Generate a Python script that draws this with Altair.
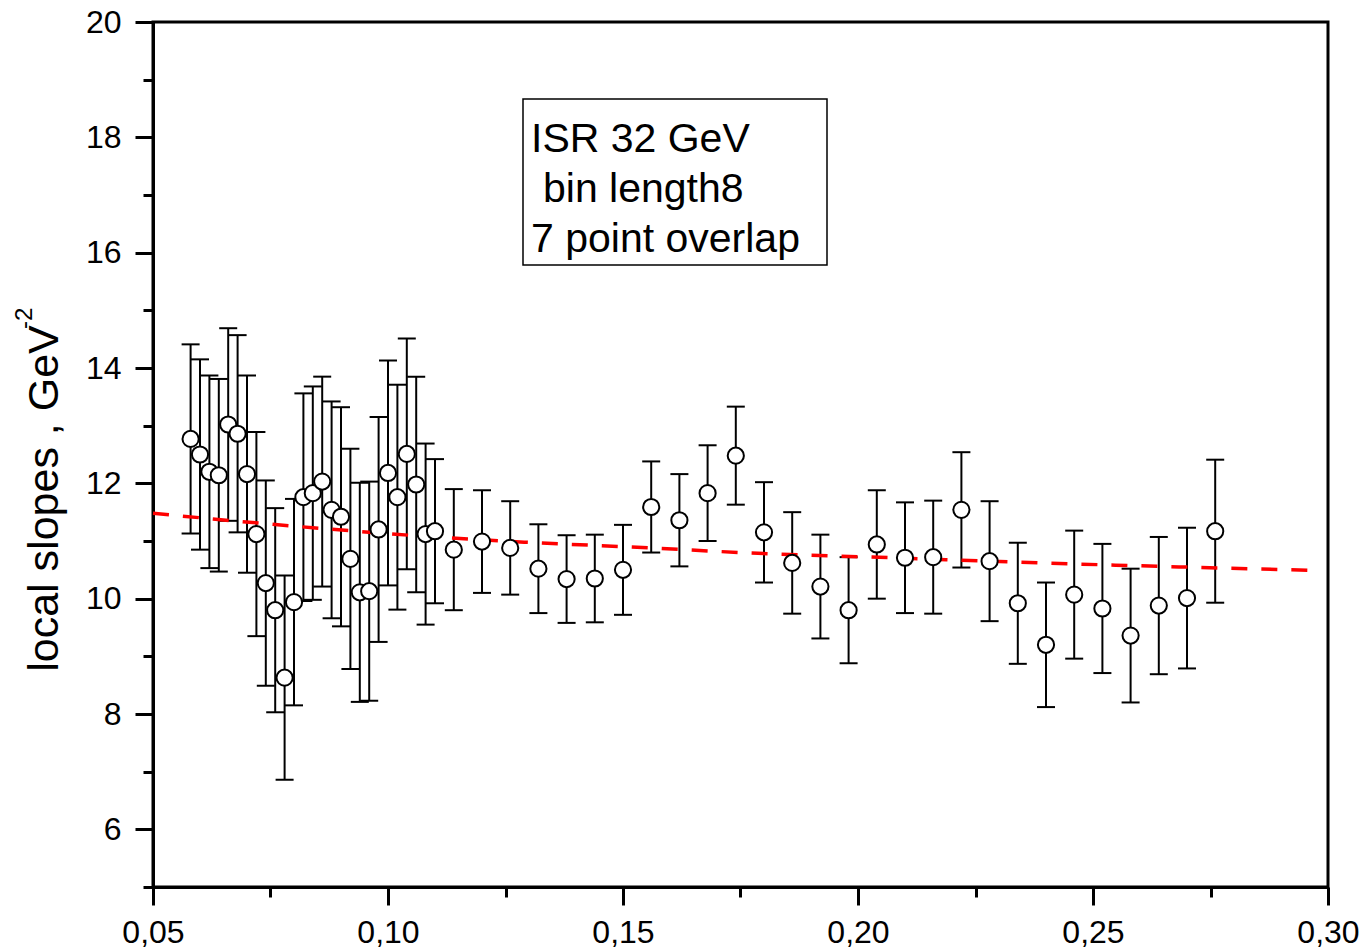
import altair as alt
import pandas as pd

# ---- data ----
x_vals = [0.058, 0.060, 0.062, 0.064, 0.066, 0.068, 0.070, 0.072, 0.074, 0.076,
          0.078, 0.080, 0.082, 0.084, 0.086, 0.088, 0.090, 0.092, 0.094, 0.096,
          0.098, 0.100, 0.102, 0.104, 0.106, 0.108, 0.110,
          0.114, 0.120, 0.126, 0.132, 0.138, 0.144, 0.150, 0.156, 0.162, 0.168,
          0.174, 0.180, 0.186, 0.192, 0.198, 0.204, 0.210, 0.216, 0.222, 0.228,
          0.234, 0.240, 0.246, 0.252, 0.258, 0.264, 0.270, 0.276]
y_vals = [12.77, 12.50, 12.20, 12.14, 13.02, 12.86, 12.16, 11.12, 10.27, 9.80,
          8.63, 9.94, 11.76, 11.83, 12.03, 11.54, 11.42, 10.69, 10.11, 10.13,
          11.20, 12.18, 11.76, 12.51, 11.98, 11.12, 11.17,
          10.85, 10.99, 10.88, 10.52, 10.34, 10.35, 10.50, 11.59, 11.36, 11.83,
          12.48, 11.15, 10.62, 10.21, 9.80, 10.94, 10.71, 10.72, 11.54, 10.65,
          9.92, 9.20, 10.07, 9.83, 9.36, 9.88, 10.01, 11.17]
y_err = [1.64, 1.65, 1.67, 1.67, 1.67, 1.71, 1.71, 1.77, 1.78, 1.77,
         1.77, 1.79, 1.80, 1.85, 1.82, 1.88, 1.90, 1.91, 1.90, 1.90,
         1.95, 1.95, 1.95, 2.00, 1.87, 1.57, 1.25,
         1.05, 0.89, 0.81, 0.77, 0.76, 0.76, 0.78, 0.79, 0.80, 0.83,
         0.85, 0.87, 0.88, 0.90, 0.92, 0.94, 0.96, 0.98, 1.00, 1.04,
         1.05, 1.08, 1.11, 1.12, 1.16, 1.19, 1.22, 1.24]

fit_x = [0.050, 0.084, 0.110, 0.129, 0.156, 0.175, 0.207, 0.239, 0.298]
fit_y = [11.48, 11.23, 11.07, 10.98, 10.88, 10.80, 10.71, 10.62, 10.49]

x_major = [0.05, 0.10, 0.15, 0.20, 0.25, 0.30]
x_minor = [0.075, 0.125, 0.175, 0.225, 0.275]
y_major = [6, 8, 10, 12, 14, 16, 18, 20]
y_minor = [5, 7, 9, 11, 13, 15, 17, 19]

box_lines = ["ISR 32 GeV", "bin length8", "7 point overlap"]
y_title = "local slopes , GeV"
y_title_sup = "-2"

FONT = "Liberation Sans"

df = pd.DataFrame({"x": x_vals, "y": y_vals, "e": y_err})
df["lo"] = df["y"] - df["e"]
df["hi"] = df["y"] + df["e"]
fit_df = pd.DataFrame({"x": fit_x, "y": fit_y})

xscale = alt.Scale(domain=[0.05, 0.30], nice=False, zero=False)
yscale = alt.Scale(domain=[5, 20], nice=False, zero=False)

common_axis = dict(domainColor="black", domainWidth=3, tickColor="black", tickWidth=3,
                   grid=False, labelFont=FONT, labelFontSize=32, labelColor="black",
                   labelFlush=False, labelOverlap=False, labelBound=False)

x_axis_major = alt.Axis(values=x_major, tickSize=18, labelPadding=12, orient="bottom",
                        labelExpr="replace(format(datum.value, '.2f'), '.', ',')",
                        title=None, **common_axis)
x_axis_minor = alt.Axis(values=x_minor, tickSize=10, labels=False, orient="bottom",
                        title=None, **common_axis)
y_axis_major = alt.Axis(values=y_major, tickSize=18, labelPadding=14, orient="left",
                        title=y_title, titleFont=FONT, titleFontSize=43,
                        titleFontWeight="normal", titleColor="black",
                        titleAngle=270, titleX=-96, titleY=476,
                        titleAlign="center", titleBaseline="alphabetic",
                        **common_axis)
y_axis_minor = alt.Axis(values=y_minor, tickSize=10, labels=False, orient="left",
                        title=None, **common_axis)

base = alt.Chart(df)

err_rules = base.mark_rule(color="black", strokeWidth=2).encode(
    x=alt.X("x:Q", scale=xscale, axis=x_axis_minor),
    y=alt.Y("lo:Q", scale=yscale, axis=y_axis_minor),
    y2="hi:Q",
)
cap_lo = base.mark_tick(orient="horizontal", color="black", size=18, thickness=2, opacity=1).encode(
    x=alt.X("x:Q", scale=xscale, axis=None),
    y=alt.Y("lo:Q", scale=yscale, axis=None),
)
cap_hi = base.mark_tick(orient="horizontal", color="black", size=18, thickness=2, opacity=1).encode(
    x=alt.X("x:Q", scale=xscale, axis=None),
    y=alt.Y("hi:Q", scale=yscale, axis=None),
)
fit_line = alt.Chart(fit_df).mark_line(color="#ff0000", strokeWidth=3.5,
                                        strokeDash=[16, 14], interpolate="monotone").encode(
    x=alt.X("x:Q", scale=xscale, axis=None),
    y=alt.Y("y:Q", scale=yscale, axis=None),
)
points = base.mark_point(shape="circle", fill="white", stroke="black", strokeWidth=2,
                         size=262, opacity=1, filled=False, fillOpacity=1).encode(
    x=alt.X("x:Q", scale=xscale, axis=x_axis_major),
    y=alt.Y("y:Q", scale=yscale, axis=y_axis_major),
)

# annotation box
box = alt.Chart(pd.DataFrame({"a": [0]})).mark_rect(
    fillOpacity=0, stroke="black", strokeWidth=1.5
).encode(x=alt.value(370), x2=alt.value(674), y=alt.value(77), y2=alt.value(243))

box_df = pd.DataFrame({"t": box_lines, "px": [378, 390, 378], "py": [130, 180, 230]})
box_text = alt.Chart(box_df).mark_text(
    align="left", baseline="alphabetic", font=FONT, fontSize=41, color="black"
).encode(text="t:N", x=alt.X("px:Q", scale=None), y=alt.Y("py:Q", scale=None))

sup = alt.Chart(pd.DataFrame({"t": [y_title_sup]})).mark_text(
    angle=270, align="left", baseline="alphabetic", font=FONT, fontSize=24, color="black"
).encode(text="t:N", x=alt.value(-121), y=alt.value(307))

chart = alt.layer(
    err_rules, cap_lo, cap_hi, fit_line, points, box, box_text, sup
).resolve_axis(x="independent", y="independent").properties(
    width=1175, height=865,
    autosize=alt.AutoSizeParams(type="none"),
    padding={"left": 153, "top": 22, "right": 39, "bottom": 65},
    background="white",
).configure_view(stroke="black", strokeWidth=3)

chart.save("out.html", embed_options={"renderer": "svg", "actions": False})
